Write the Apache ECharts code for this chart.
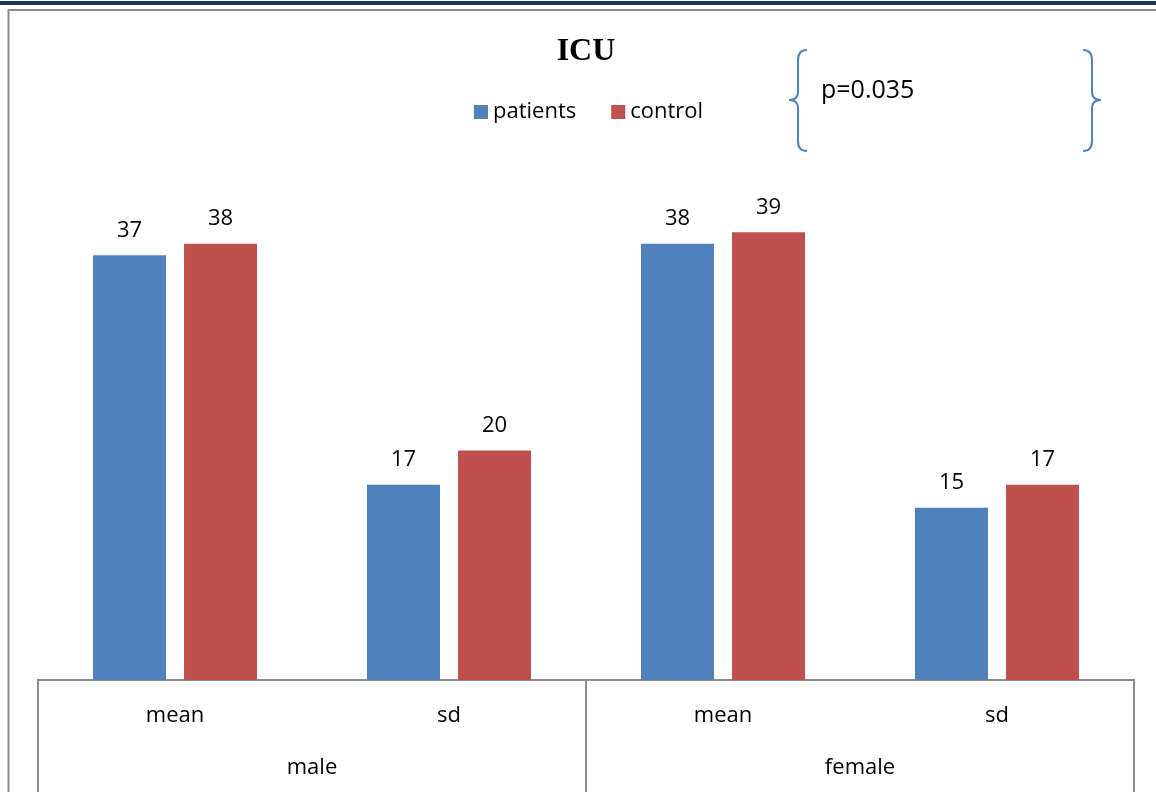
<!DOCTYPE html>
<html>
<head>
<meta charset="utf-8">
<script src="https://cdn.jsdelivr.net/npm/echarts@6/dist/echarts.min.js"></script>
<style>
html,body{margin:0;padding:0;background:#fff;}
#chart{width:1156px;height:792px;}
</style>
</head>
<body>
<div id="chart"></div>
<script>
var categories = ['mean', 'sd', 'mean', 'sd'];
var groups = ['male', 'female'];
var patients = [37, 17, 38, 15];
var control = [38, 20, 39, 17];
var seriesNames = ['patients', 'control'];
var titleText = 'ICU';
var noteText = 'p=0.035';

var FONT = '"Open Sans", "Noto Sans", sans-serif';
var chart = echarts.init(document.getElementById('chart'), null, {renderer: 'canvas'});

// curly brace drawn with line + quadratic curve pieces
function brace(xl, dir, top, mid, bottom) {
  var hook = -dir * 9, tip = dir * 9;
  var st = {stroke: '#4F81BD', lineWidth: 2, fill: null};
  function q(x1, y1, cx, cy, x2, y2) {
    return {type: 'bezierCurve', silent: true, shape: {x1: x1, y1: y1, cpx1: cx, cpy1: cy, x2: x2, y2: y2}, style: st};
  }
  function l(x1, y1, x2, y2) {
    return {type: 'line', silent: true, shape: {x1: x1, y1: y1, x2: x2, y2: y2}, style: st};
  }
  return [
    q(xl + hook, top, xl, top, xl, top + 10),
    l(xl, top + 10, xl, mid - 8),
    q(xl, mid - 8, xl, mid, xl + tip, mid),
    q(xl + tip, mid, xl, mid, xl, mid + 8),
    l(xl, mid + 8, xl, bottom - 10),
    q(xl, bottom - 10, xl, bottom, xl + hook, bottom)
  ];
}

var graphics = [
  {type: 'rect', shape: {x: 0, y: 1, width: 1156, height: 4}, style: {fill: '#17375E'}, silent: true},
  {type: 'polyline', shape: {points: [[8.5, 792], [8.5, 10], [1156, 10]]}, style: {stroke: '#8c8c8c', lineWidth: 2, fill: null}, silent: true},
  {type: 'text', left: 821, top: 78, style: {text: noteText, fontFamily: FONT, fontSize: 25, fill: '#000'}, silent: true}
].concat(brace(798, -1, 50, 100, 151)).concat(brace(1092, 1, 50, 100, 151));

var option = {
  backgroundColor: '#ffffff',
  animation: false,
  title: {
    text: titleText,
    left: 581,
    top: 31,
    textAlign: 'center',
    textStyle: {fontFamily: '"Liberation Serif", "DejaVu Serif", serif', fontWeight: 'bold', fontSize: 32, color: '#000'}
  },
  legend: {
    data: seriesNames,
    left: 469,
    top: 96,
    icon: 'rect',
    itemWidth: 14,
    itemHeight: 14,
    itemGap: 35,
    textStyle: {fontFamily: FONT, fontSize: 22, color: '#000'}
  },
  grid: {left: 38, right: 22, top: 106, bottom: 112, containLabel: false},
  xAxis: [
    {
      type: 'category',
      data: categories,
      position: 'bottom',
      axisLine: {show: true, lineStyle: {color: '#8c8c8c', width: 2}},
      axisTick: {show: false},
      axisLabel: {fontFamily: FONT, fontSize: 22, color: '#000', margin: 25, interval: 0}
    },
    {
      type: 'category',
      data: groups,
      position: 'bottom',
      offset: 0,
      axisLine: {show: true, lineStyle: {color: '#8c8c8c', width: 2}},
      axisTick: {show: true, length: 113, interval: 0, lineStyle: {color: '#8c8c8c', width: 2}},
      axisLabel: {fontFamily: FONT, fontSize: 22, color: '#000', margin: 77, interval: 0}
    }
  ],
  yAxis: {type: 'value', min: 0, max: 50, show: false, splitLine: {show: false}},
  series: [
    {
      name: seriesNames[0],
      type: 'bar',
      xAxisIndex: 0,
      data: patients,
      barWidth: 73,
      barGap: '24.7%',
      itemStyle: {color: '#4F81BD'},
      label: {show: true, position: 'top', distance: 14, fontFamily: FONT, fontSize: 22, color: '#000'}
    },
    {
      name: seriesNames[1],
      type: 'bar',
      xAxisIndex: 0,
      data: control,
      barWidth: 73,
      barGap: '24.7%',
      itemStyle: {color: '#C0504D'},
      label: {show: true, position: 'top', distance: 14, fontFamily: FONT, fontSize: 22, color: '#000'}
    }
  ],
  graphic: graphics
};
chart.setOption(option);
</script>
</body>
</html>
